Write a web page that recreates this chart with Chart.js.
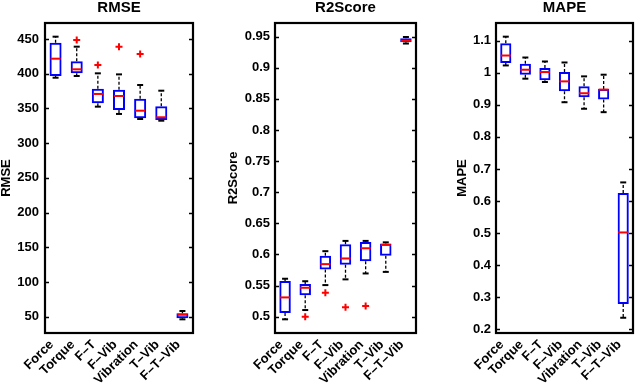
<!DOCTYPE html>
<html><head><meta charset="utf-8">
<script src="https://cdn.jsdelivr.net/npm/chart.js@4.4.0/dist/chart.umd.min.js"></script>
<style>
html,body{margin:0;padding:0;background:#fff;width:640px;height:385px;overflow:hidden}
canvas{position:absolute;top:0}
</style></head><body>
<canvas id="c1" width="213" height="385" style="left:0px"></canvas>
<canvas id="c2" width="213" height="385" style="left:213px"></canvas>
<canvas id="c3" width="214" height="385" style="left:426px"></canvas>
<script>
const categories = ['Force','Torque','F–T','F–Vib','Vibration','T–Vib','F–T–Vib'];

// RMSE
const rmseLo  = [394.2, 396.7, 352.5, 342.0, 334.7, 332.3, 46.2];
const rmseQ1  = [396.7, 400.5, 357.3, 347.7, 335.7, 333.3, 47.7];
const rmseMed = [421.6, 406.3, 370.8, 367.9, 346.7, 337.2, 52.9];
const rmseQ3  = [444.7, 417.9, 378.4, 377.0, 364.0, 353.0, 54.9];
const rmseHi  = [453.3, 438.9, 400.5, 399.0, 383.7, 375.5, 58.2];
const rmseOutCat = ['Torque','F–T','F–Vib','Vibration'];
const rmseOutVal = [448.6, 412.5, 438.9, 428.4];
const rmseTicks = [50,100,150,200,250,300,350,400,450];

// R2Score
const r2Lo  = [0.4958, 0.5107, 0.5508, 0.5600, 0.5695, 0.5720, 0.9390];
const r2Q1  = [0.5060, 0.5343, 0.5760, 0.5833, 0.5893, 0.5978, 0.9410];
const r2Med = [0.5310, 0.5465, 0.5845, 0.5936, 0.6100, 0.6154, 0.9435];
const r2Q3  = [0.5572, 0.5524, 0.5978, 0.6165, 0.6202, 0.6176, 0.9475];
const r2Hi  = [0.5610, 0.5570, 0.6053, 0.6218, 0.6218, 0.6195, 0.9495];
const r2OutCat = ['Torque','F–T','F–Vib','Vibration'];
const r2OutVal = [0.500, 0.5385, 0.515, 0.517];
const r2Ticks = [0.5,0.55,0.6,0.65,0.7,0.75,0.8,0.85,0.9,0.95];

// MAPE
const mapeLo  = [1.0227, 0.9814, 0.9710, 0.9080, 0.8876, 0.8770, 0.236];
const mapeQ1  = [1.0300, 0.9938, 0.9762, 0.9420, 0.9235, 0.9164, 0.279];
const mapeMed = [1.0536, 1.0093, 1.0021, 0.9730, 0.9360, 0.9474, 0.502];
const mapeQ3  = [1.0920, 1.0279, 1.0144, 1.0021, 0.9576, 0.9495, 0.625];
const mapeHi  = [1.1124, 1.0474, 1.0350, 1.0319, 0.9886, 0.9938, 0.658];
const mapeOutCat = [];
const mapeOutVal = [];
const mapeTicks = [0.2,0.3,0.4,0.5,0.6,0.7,0.8,0.9,1,1.1];

Chart.defaults.font.family = "'Liberation Sans', Arial, sans-serif";
Chart.defaults.color = '#000';

const framePlugin = {
  id: 'frame',
  afterDatasetsDraw(chart) {
    const {ctx, chartArea: a} = chart;
    const y = chart.scales.y;
    ctx.save();
    ctx.strokeStyle = '#000';
    ctx.lineWidth = 1.5;
    y.ticks.forEach(t => {
      const p = Math.round(y.getPixelForValue(t.value)) + 0.5;
      ctx.beginPath();
      ctx.moveTo(a.left, p); ctx.lineTo(a.left + 4, p);
      ctx.moveTo(a.right, p); ctx.lineTo(a.right - 4, p);
      ctx.stroke();
    });
    ctx.lineWidth = 2.2;
    ctx.strokeRect(a.left, a.top, a.right - a.left, a.bottom - a.top);
    ctx.restore();
  }
};

function whiskerPoints(lo, q1, q3, hi) {
  const pts = [];
  categories.forEach((c, i) => {
    pts.push({x: c, y: q3[i]}, {x: c, y: hi[i]}, {x: c, y: null},
             {x: c, y: q1[i]}, {x: c, y: lo[i]}, {x: c, y: null});
  });
  return pts;
}

function makeChart(id, o) {
  const fmt = v => String(+Number(v).toFixed(2));
  new Chart(document.getElementById(id), {
    type: 'bar',
    data: {
      labels: categories,
      datasets: [
        { type: 'line', data: whiskerPoints(o.lo, o.q1, o.q3, o.hi), borderColor: '#000', borderWidth: 1.3,
          borderDash: [3, 2], pointRadius: 0, spanGaps: false, fill: false, order: 5 },
        { type: 'bar', data: o.q1.map((v, i) => [v, o.q3[i]]), backgroundColor: 'rgba(0,0,0,0)',
          borderColor: '#0000ff', borderWidth: 2, borderSkipped: false,
          barPercentage: 0.57, categoryPercentage: 1, order: 4 },
        { type: 'line', data: o.hi, showLine: false, pointStyle: 'line', pointRadius: 3,
          pointBorderColor: '#000', pointBorderWidth: 2, order: 3 },
        { type: 'line', data: o.lo, showLine: false, pointStyle: 'line', pointRadius: 3,
          pointBorderColor: '#000', pointBorderWidth: 2, order: 3 },
        { type: 'line', data: o.med, showLine: false, pointStyle: 'line', pointRadius: 5,
          pointBorderColor: '#ff0000', pointBorderWidth: 2, order: 1 },
        { type: 'line', data: o.outCat.map((c, i) => ({x: c, y: o.outVal[i]})), showLine: false,
          pointStyle: 'cross', pointRadius: 3.5, pointBorderColor: '#ff0000', pointBorderWidth: 2, order: 0 }
      ]
    },
    options: {
      responsive: false,
      animation: false,
      events: [],
      layout: { padding: { left: 0, right: o.padRight, top: 0, bottom: 0 } },
      plugins: {
        legend: { display: false },
        tooltip: { enabled: false },
        title: { display: true, text: o.title, fullSize: false, color: '#000',
                 font: { size: 15, weight: 'bold', lineHeight: 1 }, padding: { top: 0, bottom: 8 } }
      },
      scales: {
        x: {
          type: 'category', offset: true,
          grid: { display: false, drawTicks: false }, border: { display: false },
          ticks: { minRotation: 45, maxRotation: 45, autoSkip: false, padding: 4, labelOffset: -4,
                   font: { size: 13, weight: 'bold' }, color: '#000' },
          afterFit: s => { s.height = 52; s.paddingLeft = 0; s.paddingRight = 0; }
        },
        y: {
          type: 'linear', min: o.min, max: o.max,
          grid: { display: false, drawTicks: false }, border: { display: false },
          ticks: { padding: o.tickPad, font: { size: 13, weight: 'bold' }, color: '#000', callback: v => fmt(v) },
          afterBuildTicks: s => { s.ticks = o.ticks.map(v => ({ value: v })); },
          afterFit: s => { s.width = o.yWidth; s.paddingTop = 0; s.paddingBottom = 0; },
          title: { display: true, text: o.title, color: '#000', font: { size: 13, weight: 'bold', lineHeight: 1 },
                   padding: { top: o.titlePad, bottom: 0 } }
        }
      }
    },
    plugins: [framePlugin]
  });
}

makeChart('c1', { title: 'RMSE', lo: rmseLo, q1: rmseQ1, med: rmseMed, q3: rmseQ3, hi: rmseHi,
  outCat: rmseOutCat, outVal: rmseOutVal, ticks: rmseTicks, min: 26.5, max: 473,
  yWidth: 45, padRight: 20, tickPad: 6, titlePad: 0 });
makeChart('c2', { title: 'R2Score', lo: r2Lo, q1: r2Q1, med: r2Med, q3: r2Q3, hi: r2Hi,
  outCat: r2OutCat, outVal: r2OutVal, ticks: r2Ticks, min: 0.4738, max: 0.972,
  yWidth: 62, padRight: 10, tickPad: 5, titlePad: 13.5 });
makeChart('c3', { title: 'MAPE', lo: mapeLo, q1: mapeQ1, med: mapeMed, q3: mapeQ3, hi: mapeHi,
  outCat: mapeOutCat, outVal: mapeOutVal, ticks: mapeTicks, min: 0.1885, max: 1.155,
  yWidth: 70, padRight: 3, tickPad: 5, titlePad: 29.5 });
</script>
</body></html>
